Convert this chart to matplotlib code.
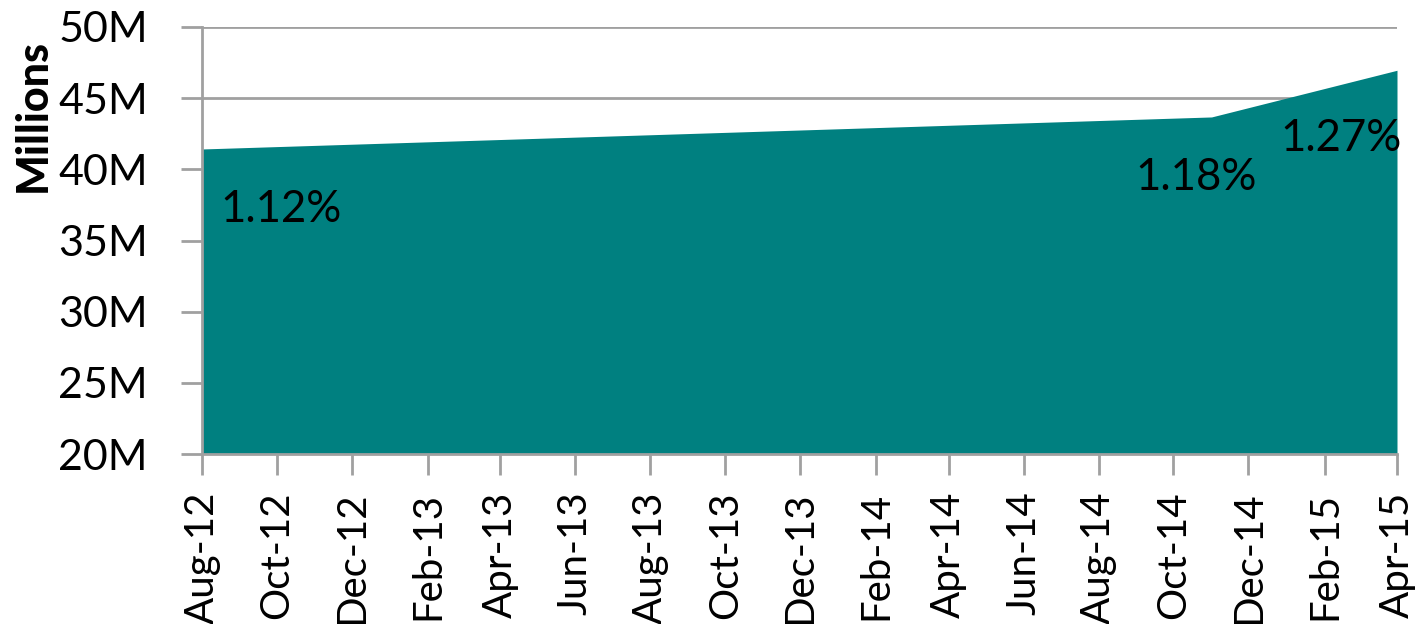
import matplotlib
matplotlib.use("Agg")
import matplotlib.pyplot as plt
import matplotlib.dates as mdates
import matplotlib.ticker as mticker
import datetime as dt

# Data
dates = [dt.date(2012, 8, 1), dt.date(2014, 11, 1), dt.date(2015, 4, 1)]
values_m = [41.43, 43.68, 46.96]
labels = ["1.12%", "1.18%", "1.27%"]
label_offsets_px = [(79, -61), (-15, -61), (-56, -68)]
y_ticks = [20, 25, 30, 35, 40, 45, 50]

plt.rcParams['font.family'] = ['Lato', 'DejaVu Sans']

fig = plt.figure(figsize=(14.23, 6.24), dpi=100)
ax = fig.add_axes([202/1423, 1-454/624, (1397-202)/1423, (454-27)/624])

teal = '#008080'
x = mdates.date2num(dates)
ax.fill_between(x, values_m, 20, color=teal, linewidth=0, zorder=3)

ax.set_ylim(20, 50)
ax.set_xlim(x[0], x[-1])
ax.set_yticks(y_ticks)
ax.yaxis.set_major_formatter(mticker.FuncFormatter(lambda v, p: f"{int(v)}M"))
ax.grid(axis='y', color='#a0a0a0', linewidth=2, zorder=1)

ax.xaxis.set_major_locator(mdates.MonthLocator(bymonth=[2, 4, 6, 8, 10, 12]))
ax.xaxis.set_major_formatter(mdates.DateFormatter('%b-%y'))

for s in ['top', 'right']:
    ax.spines[s].set_visible(False)
for s in ['left', 'bottom']:
    ax.spines[s].set_color('#a0a0a0')
    ax.spines[s].set_linewidth(2)
    ax.spines[s].set_zorder(4)

ax.tick_params(axis='y', length=15, width=2, color='#a0a0a0', pad=24, labelsize=31)
ax.tick_params(axis='x', length=15, width=2, color='#a0a0a0', pad=12, labelsize=29, labelrotation=90)

fig.text(33/1423, 1-115/624, 'Millions', rotation=90, ha='center', va='center',
         fontsize=31, fontweight='black')

for xi, yi, lab, off in zip(x, values_m, labels, label_offsets_px):
    ax.annotate(lab, (xi, yi), xytext=off, textcoords='offset pixels',
                ha='center', va='center', fontsize=31.5, color='black', zorder=5)

fig.savefig('out.png', dpi=100)
